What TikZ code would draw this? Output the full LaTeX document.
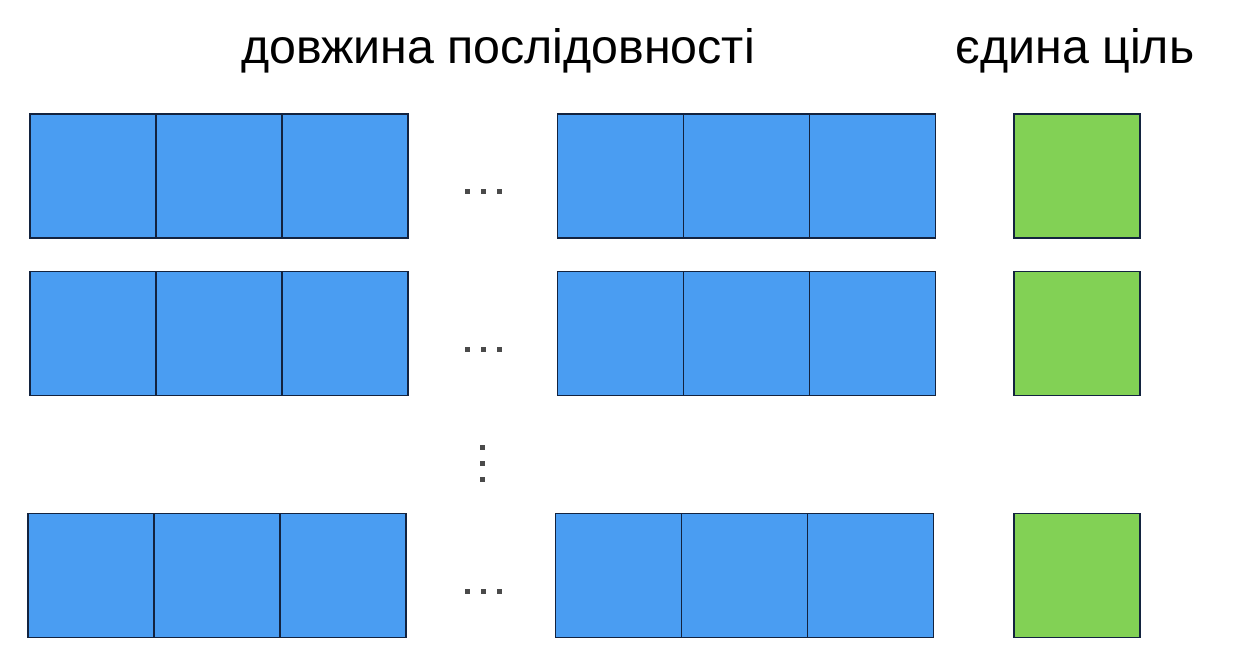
\documentclass[tikz,border=0pt]{standalone}
\usepackage{fontspec}
\setmainfont{Liberation Sans}
\definecolor{seqBlue}{HTML}{4A9DF2}
\definecolor{targetGreen}{HTML}{82D155}
\definecolor{cellBorder}{HTML}{13233F}
\definecolor{dotGray}{HTML}{4A4A4A}
\tikzset{
    cell/.style={
        draw=cellBorder,
        fill=seqBlue,
        rectangle,
        minimum width=2.52cm,
        minimum height=2.48cm,
        line width=1.1pt,
        inner sep=0pt
    },
    target/.style={
        cell,
        fill=targetGreen
    },
    dot/.style={
        fill=dotGray,
        rectangle,
        minimum size=0.1cm,
        inner sep=0pt
    },
    title/.style={
        font=\fontsize{27.5}{33}\selectfont,
        anchor=base
    }
}
\begin{document}
\begin{tikzpicture}[x=0.02cm, y=-0.02cm]
    \useasboundingbox (0,0) rectangle (1256,660);
    % Titles
    \node[title] (seqlen) at (498,63) {довжина послідовності};
    \node[title] (target) at (1075,63) {єдина ціль};
    % Sequence rows with their targets
    \foreach \r/\y/\dx in {1/176/0, 2/333.5/0, 3/575.5/-2} {
        \foreach \c/\x in {1/93,2/219,3/345,4/620.5,5/746.5,6/872.5} {
            \node[cell] (c\r-\c) at (\x+\dx,\y) {};
        }
        \node[target] (t\r) at (1077,\y) {};
        \foreach \d/\x in {1/467,2/483,3/499} {
            \node[dot] (h\r-\d) at (\x,\y+15.5) {};
        }
    }
    % Vertical dots
    \foreach \d/\y in {1/447,2/463,3/479} {
        \node[dot] (v\d) at (482,\y) {};
    }
\end{tikzpicture}
\end{document}
